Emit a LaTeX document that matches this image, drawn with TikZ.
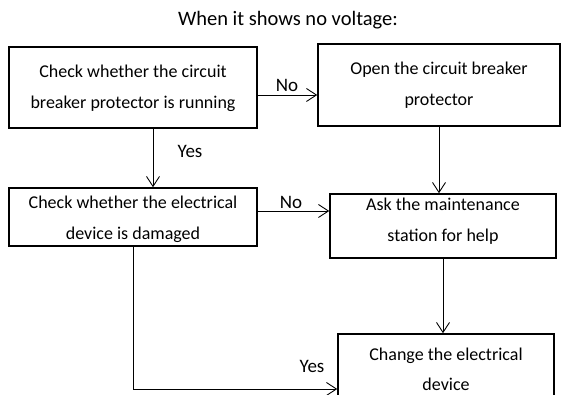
\documentclass[tikz,border=0pt]{standalone}
\usepackage{fontspec}
\setmainfont{Carlito}
\usetikzlibrary{arrows.meta}
\tikzset{
  nv box/.style={draw=black, line width=1.5pt, rectangle, inner sep=0pt},
  nv text/.style={align=center, inner sep=0pt, font=\fontsize{18}{31}\selectfont},
  nv arrow/.style={draw=black, line width=0.9pt, -{Straight Barb[length=10pt,width=13pt]}},
  nv label/.style={font=\fontsize{19}{20}\selectfont, inner sep=0pt},
}
\begin{document}
\begin{tikzpicture}[x=1pt,y=-1pt]
\useasboundingbox(0,0)rectangle(563,395);
\node[nv label,font=\fontsize{20.5}{22}\selectfont](title)at(288,20){When it shows no voltage:};
% boxes
\node[nv box,minimum width=248pt,minimum height=81pt](check1)at(133,87.5){};
\node[nv box,minimum width=242pt,minimum height=82pt](open)at(439,85){};
\node[nv box,minimum width=248pt,minimum height=58pt](check2)at(133,217){};
\node[nv box,minimum width=226pt,minimum height=64pt](ask)at(443,226){};
\node[nv box,minimum width=216pt,minimum height=84pt](change)at(446,376){};
% texts
\node[nv text](check1 text)at([yshift=-1pt]check1.center){Check whether the circuit\\breaker protector is running};
\node[nv text](open text)at(open.center){Open the circuit breaker\\protector};
\node[nv text](check2 text)at([yshift=-2pt]check2.center){Check whether the electrical\\device is damaged};
\node[nv text](ask text)at([yshift=5pt]ask.center){Ask the maintenance\\station for help};
\node[nv text,font=\fontsize{18}{30}\selectfont](change text)at([yshift=7pt]change.center){Change the electrical\\device};
% connectors
\draw[nv arrow]([yshift=-7.5pt]check1.east)--([yshift=-7.5pt]check1.east-|open.west);
\draw[nv arrow]([xshift=20pt]check1.south)--([xshift=20pt]check1.south|-check2.north);
\draw[nv arrow](open.south)--(open.south|-ask.north);
\draw[nv arrow]([yshift=6pt]check2.east)--([yshift=6pt]check2.east-|ask.west);
\draw[nv arrow](ask.south)--(ask.south|-change.north);
\draw[nv arrow](check2.south)|-([yshift=-13pt]change.west);
\node[nv label](no1)at(287,85){No};
\node[nv label](yes1)at(190,151){Yes};
\node[nv label](no2)at(291,202){No};
\node[nv label](yes2)at(312,366){Yes};
\end{tikzpicture}
\end{document}
